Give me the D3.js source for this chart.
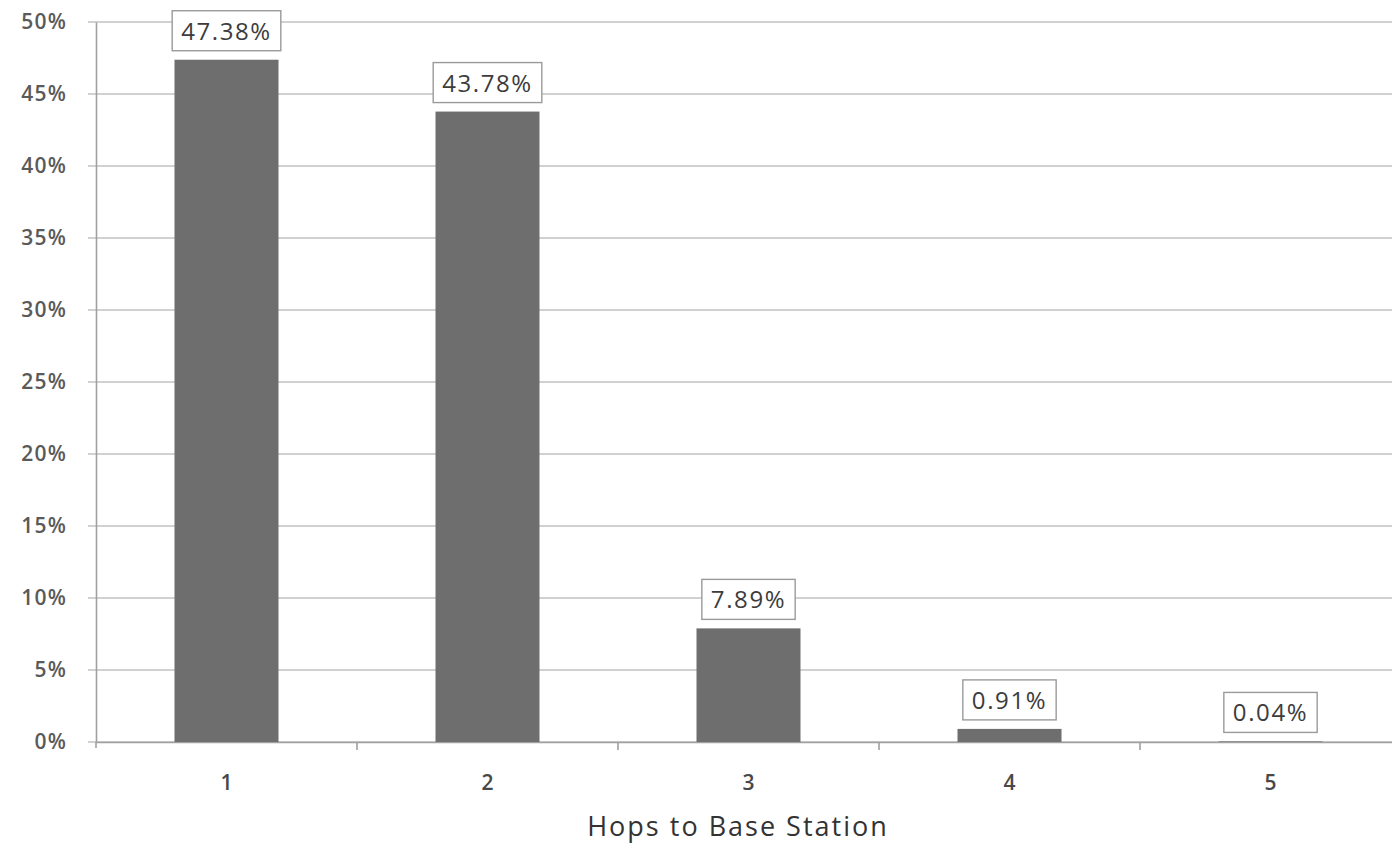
<!DOCTYPE html>
<html><head><meta charset="utf-8">
<script src="https://cdn.jsdelivr.net/npm/d3@7"></script>
<style>body{margin:0;background:#fff;overflow:hidden}svg{display:block}</style>
</head><body>
<script>
const categories = ["1","2","3","4","5"];
const values = [47.38, 43.78, 7.89, 0.91, 0.04];
const yTicks = [0,5,10,15,20,25,30,35,40,45,50];
const xTitle = "Hops to Base Station";

const W = 1392, H = 843;
const svg = d3.select("body").append("svg").attr("width", W).attr("height", H);
const xb = d3.scaleBand().domain(categories).range([96, 1401]);
const y = d3.scaleLinear().domain([0, 50]).range([742, 22]);
const font = "'Open Sans', sans-serif";

// gridlines
svg.append("g").selectAll("line").data(yTicks).join("line")
  .attr("x1", 88).attr("x2", 1401).attr("y1", d => y(d)).attr("y2", d => y(d))
  .attr("stroke", "#c2c2c2").attr("stroke-width", 1.6);

// y axis
const ya = svg.append("g").attr("transform", "translate(96,0)")
  .call(d3.axisLeft(y).tickValues(yTicks).tickFormat(d => d + "%").tickSize(0).tickPadding(29));
ya.select(".domain").attr("stroke", "#a0a0a0").attr("stroke-width", 1.6);
ya.selectAll("text").attr("font-family", font).attr("font-size", 21).attr("font-weight", 600)
  .attr("letter-spacing", 1.2).attr("fill", "#5a5a5a");
svg.append("line").attr("x1", 96).attr("x2", 96).attr("y1", 742).attr("y2", 748).attr("stroke", "#a0a0a0").attr("stroke-width", 1.6);

// x axis
const xa = svg.append("g").attr("transform", "translate(0,742)")
  .call(d3.axisBottom(xb).tickSize(0).tickPadding(33));
xa.select(".domain").attr("stroke", "#a0a0a0").attr("stroke-width", 1.6);
xa.selectAll("text").attr("font-family", font).attr("font-size", 21).attr("font-weight", 600).attr("fill", "#484848");
svg.append("g").selectAll("line").data(categories.slice(1)).join("line")
  .attr("x1", d => xb(d)).attr("x2", d => xb(d)).attr("y1", 742).attr("y2", 750)
  .attr("stroke", "#a0a0a0").attr("stroke-width", 1.6);

svg.append("text").attr("x", 738).attr("y", 836).attr("text-anchor", "middle")
  .attr("font-family", font).attr("font-size", 27).attr("letter-spacing", 2)
  .attr("fill", "#333").text(xTitle);

// bars
const xc = d => xb(d) + xb.bandwidth() / 2;
const bw = 104;
svg.append("g").selectAll("rect").data(values).join("rect")
  .attr("x", (d, i) => xc(categories[i]) - bw / 2).attr("width", bw)
  .attr("y", d => y(d)).attr("height", d => y(0) - y(d))
  .attr("fill", "#6e6e6e");

// labels
const lg = svg.append("g").selectAll("g").data(values).join("g");
lg.append("text")
  .attr("x", (d, i) => xc(categories[i])).attr("y", d => y(d) - 6 - 14)
  .attr("text-anchor", "middle").attr("font-family", font).attr("font-size", 24)
  .attr("letter-spacing", 1.6).attr("fill", "#3c3c3c").text(d => d.toFixed(2) + "%");
lg.each(function() {
  const t = d3.select(this).select("text");
  const b = t.node().getBBox();
  d3.select(this).insert("rect", "text")
    .attr("x", b.x - 9).attr("y", b.y - 3).attr("width", b.width + 18).attr("height", b.height + 7)
    .attr("fill", "#fff").attr("stroke", "#9a9a9a").attr("stroke-width", 1.4);
});
</script>
</body></html>
